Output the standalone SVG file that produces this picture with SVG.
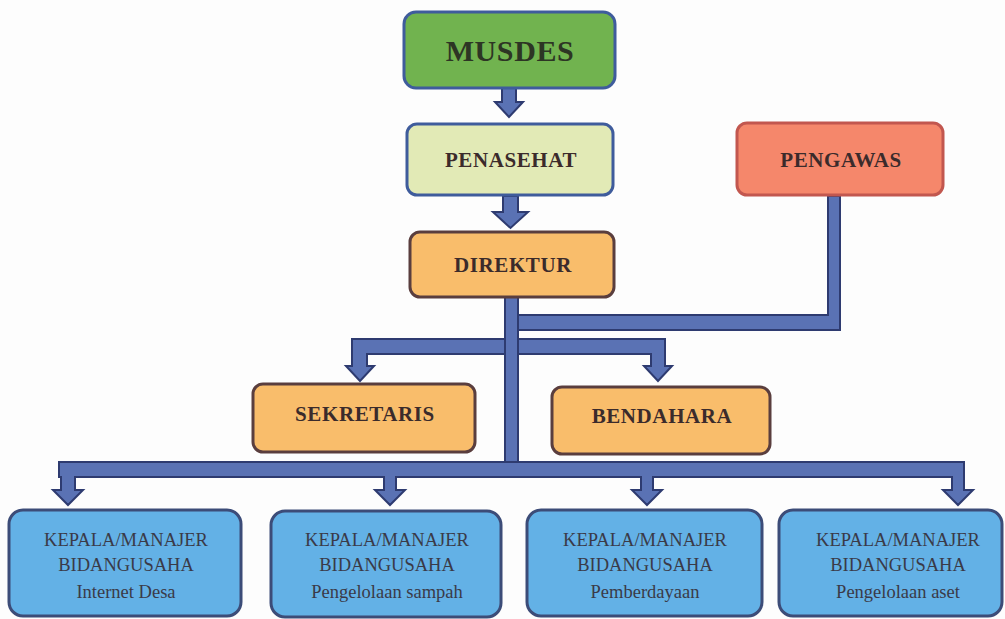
<svg xmlns="http://www.w3.org/2000/svg" width="1005" height="619" viewBox="0 0 1005 619">
<style>
.box{stroke-width:3}
.t{font-family:"Liberation Serif","DejaVu Serif",serif;font-weight:bold;text-anchor:middle;fill:#3b2b2b;font-size:21px;letter-spacing:0.6px}
.b{font-family:"Liberation Serif","DejaVu Serif",serif;text-anchor:middle;fill:#3a3a48;font-size:18.5px}
.c{fill:#5a72b4;stroke:#2e3b70;stroke-width:2;stroke-linejoin:miter}
</style>
<rect width="1005" height="619" fill="#fdfdfd"/>
<g id="connectors">
  <polygon class="c" points="502,88 516,88 516,102 523,102 509,117 495,102 502,102"/>
  <polygon class="c" points="503,196 518,196 518,212 528,212 510.5,228 493,212 503,212"/>
  <polygon class="c" points="828,196 840,196 840,330 518,330 518,315 828,315"/>
  <polygon class="c" points="352,339 665,339 665,366 672,366 658,381 644,366 651,366 651,354 367,354 367,366 374,366 360,381 346,366 352,366"/>
  <polygon class="c" points="59,462 964,462 964,490 973,490 958,505 943,490 952,490 952,477 653,477 653,490 662,490 647,505 632,490 641,490 641,477 396,477 396,490 405,490 390,505 375,490 384,490 384,477 75,477 75,490 83,490 68,505 53,490 61,490 61,477 59,477"/>
  <rect class="c" x="505" y="297" width="13" height="165"/>
</g>
<g id="musdes">
  <rect class="box" x="404" y="12" width="211" height="76" rx="12" fill="#71b34f" stroke="#3f5c9c"/>
  <text class="t" x="510" y="61" style="font-size:30px;fill:#2d3524">MUSDES</text>
</g>
<g id="penasehat">
  <rect class="box" x="407" y="124" width="206" height="71" rx="10" fill="#e2eab6" stroke="#3f5c9c"/>
  <text class="t" x="511" y="167">PENASEHAT</text>
</g>
<g id="pengawas">
  <rect class="box" x="737" y="123" width="206" height="72" rx="10" fill="#f5876b" stroke="#c2574f"/>
  <text class="t" x="841" y="167">PENGAWAS</text>
</g>
<g id="direktur">
  <rect class="box" x="410" y="232" width="204" height="65" rx="10" fill="#f9bd6b" stroke="#5a3e3e"/>
  <text class="t" x="513" y="272">DIREKTUR</text>
</g>
<g id="sekretaris">
  <rect class="box" x="253" y="384" width="222" height="68" rx="10" fill="#f9bd6b" stroke="#5a3e3e"/>
  <text class="t" x="365" y="421">SEKRETARIS</text>
</g>
<g id="bendahara">
  <rect class="box" x="552" y="387" width="218" height="67" rx="10" fill="#f9bd6b" stroke="#5a3e3e"/>
  <text class="t" x="662" y="423">BENDAHARA</text>
</g>
<g id="kepala1">
  <rect class="box" x="9" y="510" width="232" height="106" rx="14" fill="#63b1e6" stroke="#3c4c78"/>
  <text class="b" x="126" y="546">KEPALA/MANAJER</text>
  <text class="b" x="126" y="571">BIDANGUSAHA</text>
  <text class="b" x="126" y="598">Internet Desa</text>
</g>
<g id="kepala2">
  <rect class="box" x="271" y="511" width="230" height="106" rx="14" fill="#63b1e6" stroke="#3c4c78"/>
  <text class="b" x="387" y="546">KEPALA/MANAJER</text>
  <text class="b" x="387" y="571">BIDANGUSAHA</text>
  <text class="b" x="387" y="598">Pengelolaan sampah</text>
</g>
<g id="kepala3">
  <rect class="box" x="527" y="510" width="235" height="106" rx="14" fill="#63b1e6" stroke="#3c4c78"/>
  <text class="b" x="645" y="546">KEPALA/MANAJER</text>
  <text class="b" x="645" y="571">BIDANGUSAHA</text>
  <text class="b" x="645" y="598">Pemberdayaan</text>
</g>
<g id="kepala4">
  <rect class="box" x="779" y="510" width="223" height="106" rx="14" fill="#63b1e6" stroke="#3c4c78"/>
  <text class="b" x="898" y="546">KEPALA/MANAJER</text>
  <text class="b" x="898" y="571">BIDANGUSAHA</text>
  <text class="b" x="898" y="598">Pengelolaan aset</text>
</g>
</svg>
